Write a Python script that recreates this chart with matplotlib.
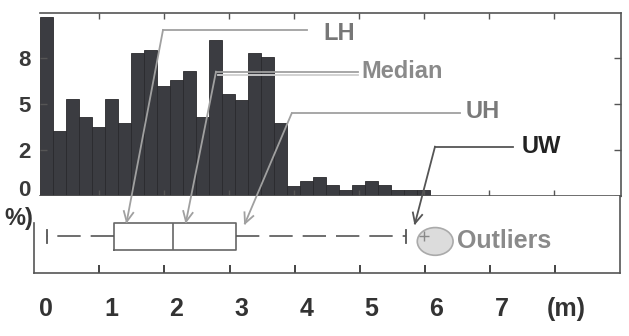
import numpy as np
import matplotlib
matplotlib.use("Agg")
import matplotlib.pyplot as plt
from matplotlib.patches import Ellipse
from matplotlib.lines import Line2D

plt.rcParams['font.family'] = ['Liberation Sans', 'DejaVu Sans']
plt.rcParams['font.weight'] = 'bold'

# histogram of distances (%), 0.2 m bins
bin_start = 0.09
bin_width = 0.2
pct = [9.72, 3.54, 5.24, 4.27, 3.76, 5.24, 3.98, 7.74, 7.95, 5.97,
       6.29, 6.78, 4.27, 8.46, 5.51, 5.21, 7.74, 7.52, 3.98, 0.54,
       0.80, 1.05, 0.57, 0.31, 0.57, 0.83, 0.57, 0.30, 0.30, 0.30]
y_ticks = [0, 2.5, 5, 7.5]
y_labels = ['0', '2', '5', '8']

# box plot summary (m)
whisker_lo = 0.19
q1 = 1.23
median = 2.13
q3 = 3.10
whisker_hi = 5.71
outliers = [5.99]

x_ticks = [1, 2, 3, 4, 5, 6, 7, 8]
x_labels = ['0', '1', '2', '3', '4', '5', '6', '7', '(m)']

W, H = 629, 336
fig = plt.figure(figsize=(W / 100, H / 100), dpi=100)


def px(x, y):
    return x / W, 1 - y / H


# --- histogram panel
ax_h = fig.add_axes([40 / W, 1 - 196 / H, 581 / W, 183.3 / H])
edges = bin_start + bin_width * np.arange(len(pct))
ax_h.bar(edges, pct, width=bin_width, align='edge', color='#3b3c41',
         edgecolor='#2a2a2d', linewidth=0.6)
ax_h.set_xlim(0.09, 9.03)
ax_h.set_ylim(0, 9.95)
ax_h.set_xticks(x_ticks)
ax_h.set_xticklabels([])
ax_h.set_yticks(y_ticks)
ax_h.set_yticklabels(y_labels, fontsize=16, fontweight='bold', color='#3a3a3a')
ax_h.get_yticklabels()[0].set_verticalalignment('baseline')
ax_h.tick_params(axis='x', direction='in', top=True, bottom=True, length=4,
                 color='#555555', width=1)
ax_h.tick_params(axis='y', direction='in', left=True, right=True, length=5,
                 color='#555555', width=1, pad=7)
for s in ax_h.spines.values():
    s.set_color('#555555')
    s.set_linewidth(1.2)
ax_h.spines['left'].set_visible(False)

# --- box plot panel
ax_b = fig.add_axes([34.3 / W, 1 - 273 / H, 585.7 / W, 77 / H])
ax_b.set_xlim(0, 9)
ax_b.set_ylim(0, 1)
stats = [dict(whislo=whisker_lo, q1=q1, med=median, q3=q3, whishi=whisker_hi,
              fliers=outliers)]
ax_b.bxp(stats, positions=[0.475], widths=[0.36], orientation='horizontal',
         capwidths=[0.17], showfliers=True,
         boxprops=dict(color='#666666', linewidth=1.2),
         medianprops=dict(color='#666666', linewidth=1.2),
         whiskerprops=dict(color='#555555', linewidth=1.2, dashes=(14, 6)),
         capprops=dict(color='#555555', linewidth=1.3),
         flierprops=dict(marker='+', markersize=7, markeredgecolor='#888888'))
ax_b.add_patch(Ellipse((6.16, 0.41), 0.55, 0.36, facecolor='#dcdcdc',
                       edgecolor='#aaaaaa', linewidth=1.2, zorder=1))
ax_b.text(6.5, 0.41, 'Outliers', fontsize=18, fontweight='bold', color='#8a8a8a',
          va='center', ha='left')
ax_b.set_yticks([])
ax_b.set_xticks(x_ticks)
ax_b.set_xticklabels([])
ax_b.set_xticks([k + 0.18 for k in range(len(x_labels))], minor=True)
ax_b.set_xticklabels(x_labels, minor=True, fontsize=18, fontweight='bold',
                     color='#333333')
ax_b.tick_params(axis='x', which='major', direction='in', length=5.5,
                 color='#444444', width=1.4)
ax_b.tick_params(axis='x', which='minor', length=0, pad=17)
ax_b.spines['top'].set_visible(False)
ax_b.spines['left'].set_bounds(0, 0.65)
for s in ax_b.spines.values():
    s.set_color('#555555')
    s.set_linewidth(1.2)

fig.text(*px(33, 218), '%)', fontsize=17, fontweight='bold', color='#333333',
         ha='right', va='center')

# --- callouts
callouts = [
    ('LH', (126.7, 221.7), (163, 30), (307, 30), '#a0a0a0', '#777777', 323, 33),
    ('Median', (186, 221.7), (216, 71.7), (358, 71.7), '#a0a0a0', '#8a8a8a', 361, 71.7),
    ('UH', (245, 223.3), (291.7, 113.3), (460, 113.3), '#a0a0a0', '#7a7a7a', 466, 112),
    ('UW', (415, 223.3), (435, 146.7), (513, 146.7), '#555555', '#222222', 522, 146.7),
]
for name, tip, corner, end, lc, tc, tx, ty in callouts:
    fig.add_artist(Line2D([px(*corner)[0], px(*end)[0]],
                          [px(*corner)[1], px(*end)[1]],
                          color=lc, linewidth=1.3, transform=fig.transFigure))
    fig.add_artist(Line2D([px(*corner)[0], px(*tip)[0]],
                          [px(*corner)[1], px(*tip)[1]],
                          color=lc, linewidth=1.3, transform=fig.transFigure))
    ang = np.arctan2(corner[1] - tip[1], corner[0] - tip[0])
    for da in (0.45, -0.45):
        hx = tip[0] + 11 * np.cos(ang + da)
        hy = tip[1] + 11 * np.sin(ang + da)
        fig.add_artist(Line2D([px(*tip)[0], px(hx, hy)[0]],
                              [px(*tip)[1], px(hx, hy)[1]],
                              color=lc, linewidth=1.3, transform=fig.transFigure))
    fig.text(*px(tx, ty), name, fontsize=17, fontweight='bold', color=tc,
             ha='left', va='center')

# shadow under the median leader
fig.add_artist(Line2D([px(218, 74.5)[0], px(358, 74.5)[0]],
                      [px(218, 74.5)[1], px(358, 74.5)[1]],
                      color='#cfcfcf', linewidth=1.3, transform=fig.transFigure))

fig.savefig('out.png', dpi=100)
